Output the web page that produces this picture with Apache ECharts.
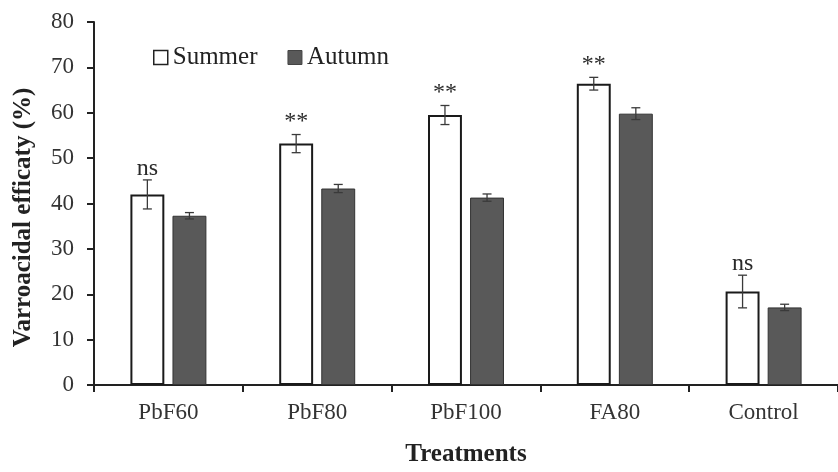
<!DOCTYPE html>
<html>
<head>
<meta charset="utf-8">
<script src="https://cdn.jsdelivr.net/npm/echarts@6/dist/echarts.min.js"></script>
<style>html,body{margin:0;padding:0;background:#fff}#c{width:838px;height:472px}</style>
</head>
<body>
<div id="c"></div>
<script>
var categories = ['PbF60', 'PbF80', 'PbF100', 'FA80', 'Control'];
var summer = [42.0, 53.2, 59.5, 66.4, 20.6];
var summerErr = [3.2, 2.0, 2.1, 1.4, 3.6];
var autumn = [37.3, 43.3, 41.3, 59.8, 17.1];
var autumnErr = [0.7, 0.9, 0.8, 1.3, 0.7];
var significance = ['ns', '**', '**', '**', 'ns'];
var yTicks = [0, 10, 20, 30, 40, 50, 60, 70, 80];

var FONT = '"Liberation Serif", "Times New Roman", serif';
var BAR_W = 0.228, BAR_GAP = 0.24;

function errSeries(values, errs, side, withText) {
  return {
    type: 'custom',
    z: 10,
    silent: true,
    data: values.map(function (v, i) { return [i, v, errs[i]]; }),
    renderItem: function (params, api) {
      var i = api.value(0), v = api.value(1), e = api.value(2);
      var band = api.size([1, 0])[0];
      var off = side * band * BAR_W * (1 + BAR_GAP) / 2;
      var top = api.coord([i, v + e]);
      var bot = api.coord([i, v - e]);
      var x = top[0] + off;
      var cap = 4.5;
      var st = { stroke: '#3a3a3a', lineWidth: 1.3 };
      var children = [
        { type: 'line', shape: { x1: x, y1: top[1], x2: x, y2: bot[1] }, style: st },
        { type: 'line', shape: { x1: x - cap, y1: top[1], x2: x + cap, y2: top[1] }, style: st },
        { type: 'line', shape: { x1: x - cap, y1: bot[1], x2: x + cap, y2: bot[1] }, style: st }
      ];
      if (withText) {
        var t = significance[i];
        children.push({
          type: 'text',
          style: {
            text: t, x: x, y: top[1] + (t === 'ns' ? 1 : -1),
            align: 'center', verticalAlign: 'bottom',
            font: '24px ' + FONT,
            fill: '#2a2a2a'
          }
        });
      }
      return { type: 'group', children: children };
    }
  };
}

var chart = echarts.init(document.getElementById('c'), null, { renderer: 'canvas' });
chart.setOption({
  animation: false,
  backgroundColor: '#fff',
  grid: { left: 94, right: 0, top: 22, bottom: 80, containLabel: false },
  legend: {
    left: 148, top: 40,
    itemWidth: 14, itemHeight: 14, itemGap: 30,
    textStyle: { fontFamily: FONT, fontSize: 25, color: '#222' },
    data: [
      { name: 'Summer', icon: 'rect', itemStyle: { color: '#fff', borderColor: '#222', borderWidth: 1.5 } },
      { name: 'Autumn', icon: 'rect', itemStyle: { color: '#595959', borderColor: '#444', borderWidth: 1 } }
    ]
  },
  xAxis: {
    type: 'category',
    data: categories,
    name: 'Treatments',
    nameLocation: 'middle',
    nameGap: 57,
    nameTextStyle: { fontFamily: FONT, fontSize: 25, fontWeight: 'bold', color: '#222' },
    axisLine: { lineStyle: { color: '#222', width: 2 } },
    axisTick: { show: true, length: 7, lineStyle: { color: '#222', width: 2 }, alignWithLabel: false },
    axisLabel: { fontFamily: FONT, fontSize: 23, color: '#333', margin: 16 },
    splitLine: { show: false }
  },
  yAxis: {
    type: 'value',
    min: yTicks[0], max: yTicks[yTicks.length - 1], interval: 10,
    name: 'Varroacidal efficaty (%)',
    nameLocation: 'middle',
    nameGap: 58,
    nameTextStyle: { fontFamily: FONT, fontSize: 25, fontWeight: 'bold', color: '#222', padding: [0, 28, 0, 0] },
    axisLine: { show: true, lineStyle: { color: '#222', width: 2 } },
    axisTick: { show: true, length: 7, lineStyle: { color: '#222', width: 2 } },
    axisLabel: { fontFamily: FONT, fontSize: 23, color: '#333', margin: 20 },
    splitLine: { show: false }
  },
  series: [
    {
      name: 'Summer', type: 'bar', data: summer,
      barWidth: (BAR_W * 100) + '%', barGap: (BAR_GAP * 100) + '%',
      itemStyle: { color: '#fff', borderColor: '#1a1a1a', borderWidth: 2 }
    },
    {
      name: 'Autumn', type: 'bar', data: autumn,
      barWidth: (BAR_W * 100) + '%', barGap: (BAR_GAP * 100) + '%',
      itemStyle: { color: '#595959', borderColor: '#333', borderWidth: 1 }
    },
    errSeries(summer, summerErr, -1, true),
    errSeries(autumn, autumnErr, 1, false)
  ]
});
</script>
</body>
</html>
